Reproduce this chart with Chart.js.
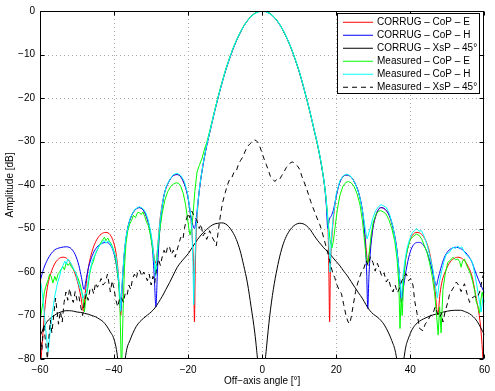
<!DOCTYPE html>
<html>
<head>
<meta charset="utf-8">
<script src="https://cdn.jsdelivr.net/npm/chart.js@4/dist/chart.umd.min.js"></script>
<style>
html,body{margin:0;padding:0;background:#fff;}
#wrap{width:495px;height:391px;position:relative;}
</style>
</head>
<body>
<div id="wrap"><canvas id="c" width="495" height="391"></canvas></div>
<script>
// ---- axis ticks ----
const xTicks = [-60, -40, -20, 0, 20, 40, 60];
const yTicks = [-80, -70, -60, -50, -40, -30, -20, -10, 0];

// ---- series labels ----
const seriesNames = [
  "CORRUG – CoP – E",
  "CORRUG – CoP – H",
  "CORRUG – XsP – 45°",
  "Measured – CoP – E",
  "Measured – CoP – H",
  "Measured – XsP – 45°"
];

// ---- series values: [off-axis angle (deg), amplitude (dB)] ----
const corrugCoPE = [
  [-60,-84],[-59.7,-80],[-59.2,-74],[-58.6,-67.5],[-58,-63.5],[-57.4,-61.2],[-56.2,-58.4],[-55,-57],[-53.8,-56.6],
  [-52.6,-57],[-51.5,-58.4],[-50.3,-61],[-49.5,-63.5],[-48.9,-66],[-48.3,-69],[-47.8,-65],[-47.2,-60.5],[-46.6,-57.5],
  [-45.7,-54.6],[-44.7,-52.6],[-43.5,-51.3],[-42.2,-50.9],[-41.1,-51.4],[-40.2,-53],[-39.5,-55.5],[-38.9,-60],[-38.5,-65],
  [-38.2,-70],[-37.8,-63],[-37.3,-56.5],[-36.5,-50.8],[-35.5,-47.5],[-34.4,-45.8],[-33.2,-45.2],[-32.2,-45.7],[-31.3,-47.2],
  [-30.4,-50],[-29.6,-54],[-29.1,-57],[-28.7,-58],[-28.2,-54],[-27.6,-48],[-26.5,-42.3],[-25.3,-39.4],[-24.2,-38],
  [-23.1,-37.6],[-22.1,-38],[-21.2,-39.4],[-20.2,-42.2],[-19.3,-47.5],[-18.8,-53.5],[-18.5,-60],[-18.3,-71.5],[-18.1,-60],
  [-17.8,-51],[-17.3,-44],[-16.8,-40],[-16,-35.5],[-15,-31],[-14,-27.3],[-13,-23.6],[-12,-20.2],[-11,-17],[-10,-14],
  [-9,-11.4],[-8,-9],[-7,-6.9],[-6,-5.1],[-5,-3.5],[-4,-2.25],[-3,-1.25],[-2,-0.55],[-1,-0.14],[0,0],
  [1,-0.14],[2,-0.55],[3,-1.25],[4,-2.25],[5,-3.5],[6,-5.1],[7,-6.9],[8,-9],[9,-11.4],[10,-14],[11,-17],[12,-20.2],
  [13,-23.6],[14,-27.3],[15,-31],[16,-35.5],[16.8,-40],[17.3,-44],[17.8,-51],[18,-60],[18.2,-71.5],[18.4,-60],[18.7,-53.5],
  [19.2,-47.9],[20.06,-42.3],[20.9,-39.5],[21.8,-38.1],[22.7,-37.7],[23.9,-38.1],[25,-39.5],[26.2,-42.3],[27.3,-47.5],
  [27.8,-52],[28.2,-56],[28.5,-58],[28.9,-56],[29.3,-53.5],[29.9,-49.8],[30.7,-47],[31.4,-45.6],[32.1,-45.2],[33.2,-45.6],
  [34.3,-47],[35.3,-49.8],[36.3,-54.5],[36.9,-59.5],[37.3,-64],[37.6,-67],[37.9,-64],[38.3,-60],[39.06,-55.5],[39.9,-52.7],
  [40.8,-51.3],[41.8,-50.9],[43,-51.3],[44.1,-52.7],[45.1,-55.2],[46,-59.5],[46.7,-64.5],[47.4,-69.9],[48,-65],[48.6,-62],
  [49.5,-59.8],[50.5,-58],[51.6,-57],[52.8,-56.6],[54.1,-57],[55.4,-58.4],[56.7,-61.2],[57.8,-66.1],[58.6,-70],[59.1,-73.8],
  [59.6,-80],[60,-86]
];

const corrugCoPH = [
  [-60,-62.2],[-59,-59.2],[-58,-57.2],[-57,-55.8],[-56,-54.9],[-54.5,-54.4],[-52.8,-54.2],[-51.5,-54.7],[-50.5,-56],
  [-49.5,-58.5],[-48.8,-61.3],[-48.1,-64],[-47.6,-62],[-47,-59.3],[-46.3,-57.2],[-45.4,-55.3],[-44.3,-54],[-43.2,-53.4],
  [-42.2,-53.2],[-41.2,-53.6],[-40.3,-55],[-39.5,-57.8],[-38.9,-61.5],[-38.5,-65],[-38.2,-69],[-37.8,-63],[-37.3,-56.5],
  [-36.5,-50.8],[-35.5,-47.5],[-34.4,-45.8],[-33.2,-45.2],[-32.2,-45.7],[-31.3,-47.2],[-30.4,-50],[-29.6,-55],[-29.15,-61],
  [-28.7,-68],[-28.3,-60],[-27.8,-52],[-27.2,-46.5],[-26.5,-42.3],[-25.3,-39.4],[-24.2,-38],[-23.1,-37.6],[-22.1,-38],
  [-21.2,-39.4],[-20.2,-42.2],[-19.3,-47],[-18.8,-49],[-18.3,-50],[-17.8,-47.5],[-17.3,-43.6],[-16.8,-40],[-16,-35.5],
  [-15,-31],[-14,-27.3],[-13,-23.6],[-12,-20.2],[-11,-17],[-10,-14],[-9,-11.4],[-8,-9],[-7,-6.9],[-6,-5.1],[-5,-3.5],
  [-4,-2.25],[-3,-1.25],[-2,-0.55],[-1,-0.14],[0,0],[1,-0.14],[2,-0.55],[3,-1.25],[4,-2.25],[5,-3.5],[6,-5.1],[7,-6.9],
  [8,-9],[9,-11.4],[10,-14],[11,-17],[12,-20.2],[13,-23.6],[14,-27.3],[15,-31],[16,-35.5],[16.8,-40],[17.3,-44.5],
  [17.7,-50],[18.1,-48],[18.7,-47],[19.2,-45.8],[20.06,-42.3],[20.9,-39.5],[21.8,-38.1],[22.7,-37.7],[23.9,-38.1],[25,-39.5],
  [26.2,-42.3],[27.3,-47.5],[27.8,-53],[28.2,-60],[28.5,-68.4],[28.8,-61.3],[29.2,-55.4],[29.9,-49.8],[30.7,-47],
  [31.4,-45.6],[32.1,-45.2],[33.2,-45.6],[34.3,-47],[35.3,-49.8],[36.3,-54.5],[36.9,-59.5],[37.3,-64],[37.6,-67],
  [37.9,-65],[38.4,-62],[39.3,-57.6],[40.2,-54.8],[41.1,-53.5],[42.2,-53.2],[43.2,-53.5],[44.2,-54.8],[45.1,-57],
  [45.9,-59.6],[46.5,-61.8],[47,-63.1],[47.5,-61.5],[48.2,-59.2],[49.2,-56.6],[50.2,-55.2],[51.3,-54.5],[52.2,-54.3],
  [53.5,-54.6],[55,-55.6],[56.5,-57.5],[57.8,-60.5],[59,-63],[60,-64.8]
];

const corrugXsP45 = [
  [-60,-74.8],[-59,-72.8],[-58,-71.3],[-57,-70.5],[-56,-69.9],[-55,-69.4],[-54,-69.1],[-53,-68.9],[-52,-68.9],[-51,-69],
  [-50,-69.2],[-49,-69.3],[-48,-69.5],[-47,-69.7],[-46,-70],[-45,-70.3],[-44,-70.8],[-43,-71.4],[-42,-72.4],[-41,-73.8],
  [-40.2,-75],[-39.5,-77.2],[-39,-80],[-38.5,-84],[-38,-90],[-37.5,-84],[-37,-80],[-36.5,-77.5],[-35.7,-75.7],[-35,-74.2],
  [-34,-72.5],[-33,-71.4],[-32,-70.6],[-31,-69.9],[-30,-69.2],[-29,-68.3],[-28,-67],[-27,-65.6],[-26,-64],[-25,-62.4],
  [-24,-60.7],[-23,-59],[-22,-57.8],[-21,-56.8],[-20,-55.8],[-19,-54.5],[-18,-53.2],[-17,-52],[-16,-51],[-15,-50.2],
  [-14,-49.5],[-13,-49],[-12,-48.8],[-11,-48.7],[-10,-48.9],[-9,-49.6],[-8,-50.8],[-7,-52.5],[-6,-55],[-5,-58.5],
  [-4,-62.5],[-3,-68],[-2,-74],[-1.5,-78],[-1,-83],[-0.2,-100],[0.6,-83],[1.2,-77],[2,-70.3],[3,-64],[4,-59.3],[5,-55.5],
  [6,-52.8],[7,-51],[8,-49.8],[9,-49.1],[10,-48.8],[11,-48.9],[12,-49.4],[13,-50.3],[14,-51.6],[15,-52.8],[16,-53.8],
  [17,-54.8],[18,-55.6],[19,-56.6],[20,-57.6],[21,-58.6],[22,-59.8],[23,-60.9],[24,-62.2],[25,-63.5],[26,-64.8],[27,-66],
  [28,-67.5],[29,-68.8],[30,-69.7],[31,-70.3],[32,-71.1],[33,-72.2],[34,-73.8],[35,-75.8],[36,-78.5],[36.6,-82],[37.3,-90],
  [38,-82],[38.7,-77.5],[39.5,-75.2],[40.5,-73.2],[41.5,-72],[42.5,-71.3],[43.5,-70.8],[44.5,-70.4],[46,-69.9],[48,-69.4],
  [50,-69],[52,-68.8],[53.5,-68.8],[55,-69.2],[56,-69.6],[57,-70.3],[58,-71.3],[59,-72.8],[60,-74.5]
];

const measuredCoPE = [
  [-60,-71.5],[-59.6,-69],[-59.2,-67],[-58.8,-64.5],[-58.3,-63],[-57.8,-61.8],[-57.4,-60.5],[-57,-61],[-56.5,-62.5],
  [-56,-61],[-55.6,-62],[-55.1,-60.4],[-54.7,-60],[-54.3,-59.3],[-53.8,-58.8],[-53.4,-59.5],[-52.9,-57.8],[-52.4,-58.5],
  [-52,-58],[-51.6,-58.7],[-51.1,-59.3],[-50.6,-59.8],[-50.2,-60.6],[-49.7,-61.5],[-49.3,-62.5],[-48.9,-63.7],[-48.4,-66],
  [-48,-69.2],[-47.6,-66],[-47.1,-63.7],[-46.6,-60.5],[-46.1,-58.6],[-45.7,-57.8],[-45.1,-56],[-44.4,-54.7],[-43.9,-53.8],
  [-43.4,-53],[-42.9,-52.4],[-42.6,-52],[-42.2,-52.8],[-41.7,-52.2],[-41.2,-53],[-40.8,-53.5],[-40.3,-54.5],[-39.8,-56],
  [-39.3,-58.5],[-38.8,-62],[-38.4,-68],[-38,-84],[-37.6,-70],[-37.2,-59],[-36.8,-53.5],[-36.3,-50.5],[-35.8,-49],
  [-35.3,-48.2],[-34.8,-47],[-34.2,-47.5],[-33.7,-46.4],[-33.2,-46.3],[-32.7,-46.8],[-32.2,-46.2],[-31.7,-47.3],
  [-31.2,-48.6],[-30.7,-49.4],[-30.2,-51.5],[-29.7,-54],[-29.2,-57],[-28.8,-60],[-28.5,-58],[-28.1,-54],[-27.6,-50],
  [-27,-46.5],[-26.3,-43.5],[-25.5,-41.5],[-24.7,-40.3],[-24,-39.8],[-23.2,-39.5],[-22.6,-39.6],[-22,-40.3],[-21.3,-42],
  [-20.7,-44.5],[-20.2,-47.5],[-19.8,-50],[-19.5,-51.5],[-19.1,-50],[-18.7,-47],[-18.2,-41.5],[-17.6,-37],[-17,-35.5],
  [-16.3,-34],[-15.5,-31.5],[-15,-30.3],[-14,-27],[-13,-23.4],[-12,-20],[-11,-16.8],[-10,-13.8],[-9,-11.2],[-8,-8.8],
  [-7,-6.8],[-6,-5],[-5,-3.4],[-4,-2.2],[-3,-1.2],[-2,-0.5],[-1,-0.1],[0,0],[1,-0.1],[2,-0.5],[3,-1.2],[4,-2.2],
  [5,-3.45],[6,-5.05],[7,-6.9],[8,-8.9],[9,-11.3],[10,-13.9],[11,-16.9],[12,-20.2],[13,-23.6],[14,-27.3],[15,-31],
  [16,-35.3],[16.8,-39.8],[17.3,-43.5],[17.8,-48.5],[18.3,-52.5],[18.8,-54.5],[19.2,-53],[19.7,-49.5],[20.3,-45.5],
  [21,-42.3],[21.8,-40.3],[22.6,-39.4],[23.3,-39.2],[24,-39.5],[24.8,-40.3],[25.6,-42],[26.4,-44.5],[27.1,-48.5],
  [27.7,-53.5],[28.1,-57],[28.5,-58.1],[28.9,-55.5],[29.4,-51.5],[30,-48.5],[30.7,-46.8],[31.4,-46],[32,-45.9],
  [32.7,-46.2],[33.4,-46.6],[34.2,-48],[35,-50],[35.8,-53],[36.4,-57],[36.9,-63],[37.2,-73],[37.5,-66],[37.8,-70],
  [38.2,-62],[38.7,-57],[39.3,-54.5],[40,-52.5],[40.8,-51.8],[41.6,-51.3],[42.4,-51.6],[43.1,-52.5],[43.8,-54],
  [44.5,-55.5],[45.2,-58],[45.9,-61],[46.5,-64.5],[47,-69],[47.5,-74.5],[47.9,-68],[48.3,-74],[48.8,-64],[49.4,-60.5],
  [50.1,-57.8],[50.8,-57.3],[51.5,-56.6],[52.2,-57.2],[52.8,-57],[53.3,-57.6],[53.7,-58.9],[54.1,-57.5],[54.6,-57],
  [55.2,-58.5],[55.8,-59.6],[56.3,-60.6],[56.9,-62.5],[57.4,-64.5],[57.8,-66.9],[58.3,-68],[58.7,-69.5],[59.1,-66],
  [59.4,-64.6],[59.7,-66],[60,-67]
];

const measuredCoPH = [
  [-60,-61.5],[-59.5,-64],[-59,-68],[-58.5,-73],[-57.8,-78.3],[-57.3,-74],[-56.8,-70],[-56.5,-68.4],[-56,-65.5],
  [-55.5,-63.5],[-55.2,-62.3],[-54.7,-61],[-54.3,-59.5],[-53.8,-58.5],[-53.3,-57.5],[-52.9,-58.2],[-52.5,-57],[-52,-57.5],
  [-51.5,-58.3],[-51.1,-59],[-50.6,-59.8],[-50.2,-60.5],[-49.8,-62],[-49.3,-63.5],[-48.8,-64.5],[-48.4,-66],[-48,-65.2],
  [-47.5,-65],[-47,-62],[-46.6,-60],[-46.2,-58.5],[-45.7,-57],[-45.2,-56.2],[-44.8,-55.3],[-44.4,-54.7],[-43.9,-53.8],
  [-43.4,-53.5],[-42.9,-52.8],[-42.6,-52.8],[-42.2,-53.4],[-41.7,-52.9],[-41.2,-53.2],[-40.7,-54],[-40.2,-55],[-39.5,-56.5],
  [-39,-59.5],[-38.6,-63],[-38.2,-69],[-37.8,-62],[-37.3,-56],[-36.8,-52],[-36.2,-49.5],[-35.6,-47.5],[-35,-46.5],
  [-34.4,-45.6],[-33.8,-45.3],[-33.2,-45],[-32.6,-45.2],[-32,-45.6],[-31.4,-46.5],[-30.8,-48],[-30.2,-50.3],[-29.6,-53.5],
  [-29.2,-57],[-28.8,-61],[-28.5,-57],[-28,-52],[-27.5,-47.5],[-26.8,-43.5],[-26,-40.5],[-25,-38.8],[-24,-37.6],[-23,-37.3],
  [-22,-37.8],[-21,-39.2],[-20.2,-41.8],[-19.5,-45.5],[-19,-50],[-18.7,-58],[-18.5,-67.5],[-18.2,-58],[-17.8,-49],
  [-17.3,-43.5],[-16.8,-39.8],[-16,-35.3],[-15,-30.8],[-14,-27.2],[-13,-23.5],[-12,-20.1],[-11,-16.9],[-10,-13.9],
  [-9,-11.3],[-8,-8.9],[-7,-6.8],[-6,-5],[-5,-3.5],[-4,-2.2],[-3,-1.25],[-2,-0.6],[-1,-0.2],[0,-0.1],[1,-0.2],[2,-0.6],
  [3,-1.25],[4,-2.2],[5,-3.45],[6,-5],[7,-6.8],[8,-8.9],[9,-11.3],[10,-13.9],[11,-16.9],[12,-20.1],[13,-23.5],[14,-27.2],
  [15,-30.8],[16,-35.2],[16.8,-39.8],[17.3,-43.5],[17.8,-49],[18.3,-60],[18.7,-52],[19.2,-47],[20,-42],[21,-39],
  [22,-37.8],[22.8,-37.5],[23.8,-37.9],[25,-39.4],[26.2,-42.2],[27.2,-46.5],[27.8,-50],[28.3,-52.4],[28.8,-51],
  [29.3,-49.5],[29.9,-47.5],[30.7,-45.8],[31.4,-45],[32.1,-44.5],[32.8,-44.8],[33.5,-45.2],[34.3,-46.5],[35.3,-49.5],
  [36.2,-54],[36.8,-58.5],[37.3,-63],[37.6,-66],[38,-61],[38.5,-57.5],[39.1,-54.5],[39.8,-52.5],[40.5,-51],[41.1,-50.5],
  [41.7,-50],[42.3,-50.6],[43,-50.5],[43.8,-52],[44.6,-54],[45.4,-56.8],[46.1,-59.5],[46.7,-63],[47.3,-66],[47.8,-62.5],
  [48.4,-60],[49.1,-57.5],[49.7,-55.9],[50.5,-55.5],[51.5,-54.3],[52.2,-54.6],[52.8,-54],[53.3,-54.6],[53.9,-54.2],
  [54.6,-55.5],[55.5,-56.4],[56.2,-57],[56.8,-57.9],[57.4,-60.5],[57.8,-62.3],[58.5,-66],[59.1,-69.2],[59.6,-66],[60,-66.9]
];

const measuredXsP45 = [
  [-60,-74],[-59.5,-78],[-59,-72],[-58.5,-76],[-58,-80],[-57.6,-75],[-57.2,-71],[-56.8,-74],[-56.3,-70],[-55.8,-66],
  [-55.4,-69],[-55,-72],[-54.5,-69],[-54,-71.5],[-53.5,-67],[-53,-64.6],[-52.5,-66.5],[-52,-63.8],[-51.5,-66],[-51,-67],
  [-50.5,-64.5],[-50,-66.5],[-49.5,-65.6],[-49,-68],[-48.5,-70],[-48,-67],[-47.5,-65],[-47,-66.5],[-46.5,-64],[-46,-63.6],
  [-45.5,-65],[-45,-62.5],[-44.5,-63.5],[-44,-62.7],[-43.5,-61.5],[-43,-63],[-42.3,-62.3],[-41.8,-60.5],[-41.3,-63],
  [-41,-64.6],[-40.5,-62],[-40,-64],[-39.5,-66.5],[-39,-68],[-38.5,-66],[-38,-65.8],[-37.5,-67],[-37,-65],[-36.5,-65.5],
  [-36,-63],[-35.5,-64],[-35,-61.5],[-34.5,-60.5],[-34,-61.5],[-33.5,-59.5],[-33,-59.7],[-32.5,-61],[-32,-60],[-31.5,-61],
  [-31,-62],[-30.5,-60.5],[-30,-63],[-29.5,-61],[-29,-62.5],[-28.5,-59],[-28,-57],[-27.5,-58.5],[-27,-56.5],[-26.5,-55],
  [-26,-56],[-25.5,-54],[-25,-54.3],[-24.5,-56],[-24,-55],[-23.5,-56.6],[-23,-55],[-22.5,-53.5],[-22,-52],[-21.4,-52.5],
  [-21,-50],[-20.5,-48],[-20,-46.5],[-19.6,-47.5],[-19,-46],[-18.5,-47],[-17.7,-48],[-17,-50],[-16.5,-49],[-16,-51.7],
  [-15.5,-51],[-15,-52.5],[-14.5,-51.5],[-14.2,-50.5],[-13.5,-52],[-12.9,-53],[-12.4,-54],[-12,-51.5],[-11.5,-48.2],
  [-11,-45.5],[-10.6,-43.7],[-10,-41.8],[-9.4,-40],[-8.8,-38.7],[-8.2,-38.3],[-7.6,-37],[-7,-36.8],[-6.4,-35.2],
  [-5.8,-34.3],[-5.2,-33.5],[-4.6,-32.2],[-4,-31.2],[-3.4,-30.6],[-2.8,-30.1],[-2.2,-29.6],[-1.6,-29.8],[-1,-30.4],
  [-0.5,-31.5],[0,-32.8],[0.5,-34],[1.1,-35.3],[1.6,-36.5],[2.2,-38],[2.8,-38.6],[3.4,-39.2],[4,-38.6],[4.7,-38.7],
  [5.3,-37.8],[6,-36.8],[6.5,-36],[7.2,-35.2],[7.8,-34.8],[8.3,-34.7],[8.9,-35.2],[9.5,-35.6],[10.1,-36.4],[10.7,-38],
  [11.3,-39.3],[11.9,-40.6],[12.5,-42.2],[13.1,-43.8],[13.7,-45.2],[14.3,-46.5],[14.9,-47.8],[15.5,-49],[16.1,-50.5],
  [16.7,-52.5],[17.3,-54.3],[17.9,-56.3],[18.5,-58.5],[19.1,-60.4],[19.6,-61.3],[20,-62.6],[20.7,-64],[21.4,-65],
  [22,-67.5],[22.7,-70.3],[23.2,-71.5],[23.6,-71.9],[24,-70.5],[24.5,-68],[25.2,-64.5],[25.8,-62.5],[26.3,-61.2],
  [26.8,-60],[27.3,-59.5],[28.1,-57.4],[28.6,-58.5],[29.2,-56.5],[29.9,-57.8],[30.5,-59.8],[31.1,-58],[31.7,-59.5],
  [32.3,-61],[32.9,-60.2],[33.5,-62.3],[34.1,-61.5],[34.7,-63.5],[35.3,-64.6],[35.9,-63],[36.5,-64.8],[37.1,-63.6],
  [37.7,-62],[38.3,-61],[38.9,-60.4],[39.5,-62],[40.1,-61.5],[40.7,-63],[41.2,-66.8],[41.8,-69.5],[42.5,-73],[43.4,-73.5],
  [44,-72],[44.7,-71.2],[45.4,-70],[46.1,-69.6],[46.7,-68],[47.3,-69.5],[47.9,-70.5],[48.4,-69.5],[48.8,-71.5],[49.4,-69],
  [50.1,-67],[50.6,-65],[51,-64.5],[51.7,-63.5],[52.4,-62.3],[53,-63],[53.7,-64.5],[54.2,-63.5],[54.6,-62.7],[55.3,-65],
  [56,-67],[56.6,-66],[57.3,-65.6],[58,-66],[58.7,-64.6],[59.1,-63],[59.5,-61.2],[60,-60]
];

// ---- build datasets ----
const toPts = arr => arr.map(p => ({x: p[0], y: p[1]}));
const styles = [
  {color: '#ff0000', dash: [], smooth: true},
  {color: '#0000ff', dash: [], smooth: true},
  {color: '#000000', dash: [], smooth: true},
  {color: '#00ff00', dash: [], smooth: false},
  {color: '#00ffff', dash: [], smooth: false},
  {color: '#000000', dash: [5, 4], smooth: false}
];
const seriesData = [corrugCoPE, corrugCoPH, corrugXsP45, measuredCoPE, measuredCoPH, measuredXsP45];
const datasets = seriesData.map((arr, i) => ({
  label: seriesNames[i],
  data: toPts(arr),
  borderColor: styles[i].color,
  backgroundColor: styles[i].color,
  borderWidth: 1,
  borderDash: styles[i].dash,
  pointRadius: 0,
  fill: false,
  tension: styles[i].smooth ? 0.4 : 0,
  cubicInterpolationMode: styles[i].smooth ? 'monotone' : 'default',
  order: 6 - i
}));

const FONT = '"Liberation Sans", Arial, Helvetica, sans-serif';
const fmt = v => (v < 0 ? '\u2212' + Math.abs(v) : String(v));

const gridPlugin = {
  id: 'matlabGrid',
  beforeDatasetsDraw(chart) {
    const {ctx, chartArea: a, scales: {x, y}} = chart;
    ctx.save();
    ctx.strokeStyle = '#a8a8a8';
    ctx.lineWidth = 1;
    ctx.setLineDash([1, 3]);
    xTicks.forEach(v => {
      const px = Math.round(x.getPixelForValue(v)) + 0.5;
      if (v === xTicks[0] || v === xTicks[xTicks.length - 1]) return;
      ctx.beginPath(); ctx.moveTo(px, a.top); ctx.lineTo(px, a.bottom); ctx.stroke();
    });
    yTicks.forEach(v => {
      const py = Math.round(y.getPixelForValue(v)) + 0.5;
      if (v === yTicks[0] || v === yTicks[yTicks.length - 1]) return;
      ctx.beginPath(); ctx.moveTo(a.left, py); ctx.lineTo(a.right, py); ctx.stroke();
    });
    ctx.restore();
  },
  afterDatasetsDraw(chart) {
    const {ctx, chartArea: a, scales: {x, y}} = chart;
    ctx.save();
    ctx.setLineDash([]);
    ctx.strokeStyle = '#000';
    ctx.lineWidth = 1;
    const L = Math.round(a.left) + 0.5, R = Math.round(a.right) - 0.5;
    const T = Math.round(a.top) + 0.5, B = Math.round(a.bottom) - 0.5;
    ctx.strokeRect(L, T, R - L, B - T);
    const tl = 4;
    xTicks.forEach(v => {
      const px = Math.round(x.getPixelForValue(v)) + 0.5;
      ctx.beginPath(); ctx.moveTo(px, B); ctx.lineTo(px, B - tl); ctx.stroke();
      ctx.beginPath(); ctx.moveTo(px, T); ctx.lineTo(px, T + tl); ctx.stroke();
    });
    yTicks.forEach(v => {
      const py = Math.round(y.getPixelForValue(v)) + 0.5;
      ctx.beginPath(); ctx.moveTo(L, py); ctx.lineTo(L + tl, py); ctx.stroke();
      ctx.beginPath(); ctx.moveTo(R, py); ctx.lineTo(R - tl, py); ctx.stroke();
    });
    // legend
    const bx = 337.5, by = 13.5, bw = 142, bh = 80;
    ctx.fillStyle = '#fff';
    ctx.fillRect(bx, by, bw, bh);
    ctx.strokeStyle = '#000';
    ctx.strokeRect(bx, by, bw, bh);
    ctx.font = '10px ' + FONT;
    ctx.textBaseline = 'middle';
    ctx.textAlign = 'left';
    seriesNames.forEach((name, i) => {
      const cy = Math.round(21.5 + i * 13) + 0.25;
      ctx.strokeStyle = styles[i].color;
      ctx.lineWidth = 1;
      ctx.setLineDash(styles[i].dash);
      ctx.beginPath(); ctx.moveTo(343, cy); ctx.lineTo(373, cy); ctx.stroke();
      ctx.setLineDash([]);
      ctx.fillStyle = '#000';
      ctx.fillText(name, 377, Math.round(21.5 + i * 13));
    });
    ctx.restore();
  }
};

new Chart(document.getElementById('c'), {
  type: 'line',
  data: {datasets},
  options: {
    responsive: false,
    animation: false,
    devicePixelRatio: 1,
    layout: {padding: {top: 9, right: 10, left: 0, bottom: 0}},
    plugins: {legend: {display: false}, tooltip: {enabled: false}},
    scales: {
      x: {
        type: 'linear', min: -60, max: 60,
        afterBuildTicks: s => { s.ticks = xTicks.map(v => ({value: v})); },
        afterFit: s => { s.height = 32; },
        grid: {display: false, drawTicks: false},
        border: {display: false},
        ticks: {padding: 5, color: '#000', font: {family: FONT, size: 10}, callback: v => fmt(v), maxRotation: 0, autoSkip: false},
        title: {display: true, text: 'Off\u2212axis angle [°]', color: '#000', font: {family: FONT, size: 10}, padding: {top: 2, bottom: 4}}
      },
      y: {
        type: 'linear', min: -80, max: 0,
        afterBuildTicks: s => { s.ticks = yTicks.map(v => ({value: v})); },
        afterFit: s => { s.width = 40; },
        grid: {display: false, drawTicks: false},
        border: {display: false},
        ticks: {padding: 5, color: '#000', font: {family: FONT, size: 10}, callback: v => fmt(v), autoSkip: false},
        title: {display: true, text: 'Amplitude [dB]', color: '#000', font: {family: FONT, size: 10}, padding: {top: 4, bottom: 2}}
      }
    }
  },
  plugins: [gridPlugin]
});
</script>
</body>
</html>
